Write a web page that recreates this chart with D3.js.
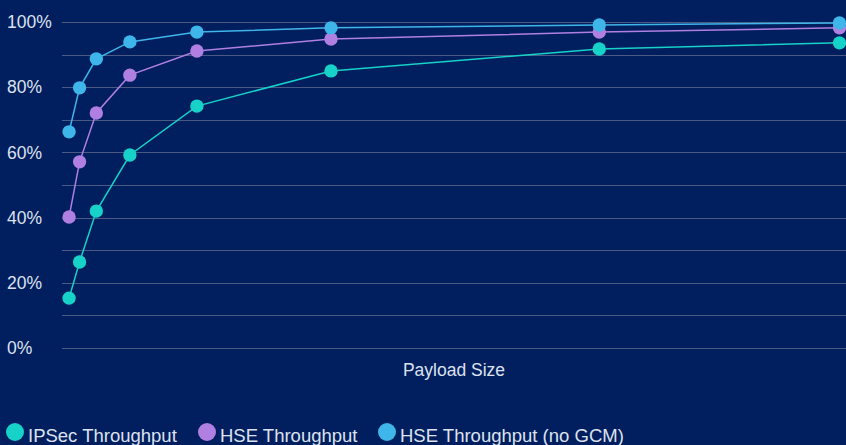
<!DOCTYPE html>
<html>
<head>
<meta charset="utf-8">
<script src="https://cdn.jsdelivr.net/npm/d3@7"></script>
<style>
  html, body { margin: 0; padding: 0; background: #011e5e; }
  svg { display: block; }
  text { font-family: "Liberation Sans", Arial, sans-serif; }
</style>
</head>
<body>
<svg id="chart" width="846" height="445"></svg>
<script>
// payload sizes (bytes)
const payloadSizes = [48, 128, 256, 512, 1024, 2048, 4096, 5930];

// throughput, percent of line rate
const ipsecThroughput = [15.3, 26.4, 42.0, 59.2, 74.2, 85.0, 91.7, 93.6];
const hseThroughput = [40.2, 57.1, 72.1, 83.7, 91.1, 94.8, 96.9, 98.2];
const hseNoGcmThroughput = [66.3, 79.8, 88.7, 93.9, 96.9, 98.2, 99.1, 99.7];

const seriesNames = ['IPSec Throughput', 'HSE Throughput', 'HSE Throughput (no GCM)'];
const seriesColors = ['#16d2c8', '#b07fe2', '#3fb6ea'];

const yTicks = [0, 20, 40, 60, 80, 100];
const yGrid = d3.range(0, 101, 10);

const svg = d3.select('#chart');
const W = 846, H = 445;
const plot = { left: 62.8, right: 846, top: 22, bottom: 348 };
const textColor = '#dde2ee';

const x = d3.scaleLinear().domain([0, 5980]).range([plot.left, plot.right]);
const y = d3.scaleLinear().domain([0, 100]).range([plot.bottom, plot.top]);

svg.append('rect').attr('width', W).attr('height', H).attr('fill', '#011e5e');

// gridlines every 10%
svg.append('g')
    .selectAll('line')
    .data(yGrid)
    .join('line')
    .attr('x1', 62)
    .attr('x2', W)
    .attr('y1', d => Math.round(y(d)) + 0.5)
    .attr('y2', d => Math.round(y(d)) + 0.5)
    .attr('stroke', '#4a5a84')
    .attr('stroke-width', 1);

// y labels, left aligned
svg.append('g')
    .selectAll('text')
    .data(yTicks)
    .join('text')
    .attr('x', 7)
    .attr('y', d => y(d))
    .attr('dy', '0.35em')
    .attr('fill', textColor)
    .attr('font-size', 17.5)
    .text(d => d + '%');

svg.append('text')
    .attr('x', (62 + W) / 2)
    .attr('y', 370)
    .attr('dy', '0.35em')
    .attr('text-anchor', 'middle')
    .attr('fill', textColor)
    .attr('font-size', 17.5)
    .text('Payload Size');

const allSeries = [ipsecThroughput, hseThroughput, hseNoGcmThroughput];

const line = d3.line()
    .x((d, i) => x(payloadSizes[i]))
    .y(d => y(d));

allSeries.forEach((values, s) => {
    const g = svg.append('g');
    g.append('path')
        .datum(values)
        .attr('d', line)
        .attr('fill', 'none')
        .attr('stroke', seriesColors[s])
        .attr('stroke-width', 1.5);
    g.selectAll('circle')
        .data(values)
        .join('circle')
        .attr('cx', (d, i) => x(payloadSizes[i]))
        .attr('cy', d => y(d))
        .attr('r', 6.7)
        .attr('fill', seriesColors[s]);
});

// legend - runs off the bottom edge like the original
const legendX = [15, 207, 387];
const legend = svg.append('g');
seriesNames.forEach((name, s) => {
    legend.append('circle')
        .attr('cx', legendX[s])
        .attr('cy', 432)
        .attr('r', 9)
        .attr('fill', seriesColors[s]);
    legend.append('text')
        .attr('x', legendX[s] + 13)
        .attr('y', 442)
        .attr('fill', textColor)
        .attr('font-size', 18.5)
        .text(name);
});
</script>
</body>
</html>
